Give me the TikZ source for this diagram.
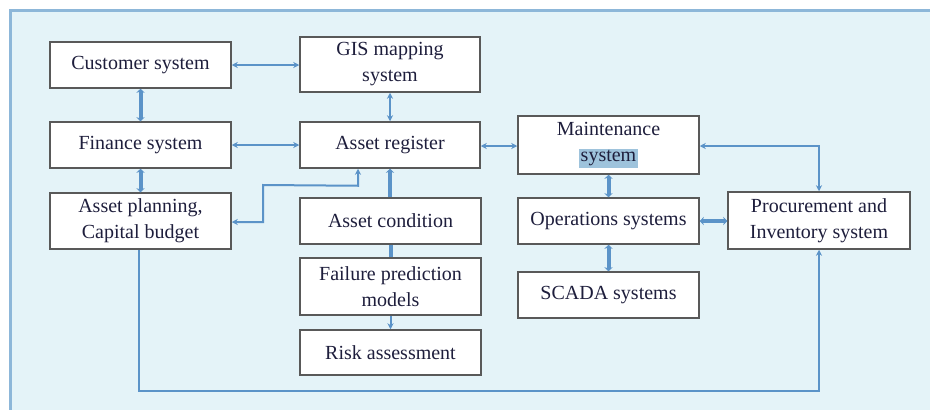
\documentclass[tikz,border=0pt]{standalone}
\usepackage{fontspec}
\setmainfont{Liberation Serif}
\usetikzlibrary{arrows.meta,calc}
\definecolor{bgblue}{HTML}{E4F3F8}
\definecolor{frameblue}{HTML}{8DB7D9}
\definecolor{lineblue}{HTML}{5B93C8}
\definecolor{hl}{HTML}{9EC3DC}
\definecolor{txt}{HTML}{1E1E3C}
\tikzset{
  box/.style={draw=black!65, line width=1.5pt, fill=white, text=txt,
    font=\fontsize{20}{26}\selectfont, align=center, inner sep=2pt},
  lnthin/.style={draw=lineblue, line width=2pt, >={Stealth[length=6pt,width=6pt]}},
  lnthick/.style={draw=lineblue, line width=4pt, >={Stealth[length=4pt,width=8pt]}},
}
\begin{document}
\begin{tikzpicture}[x=1pt,y=-1pt]
\useasboundingbox (0,0) rectangle (930,410);
\fill[bgblue] (10,10) rectangle (940,420);
\draw[frameblue, line width=3pt] (10,420) -- (10,10) -- (940,10);

\node[box, minimum width=181pt, minimum height=46pt] (cust) at (140.5,65) {Customer system};
\node[box, minimum width=180pt, minimum height=55pt] (gis) at (390,64.5) {GIS mapping\\system};
\node[box, minimum width=181pt, minimum height=46pt] (fin) at (140.5,145) {Finance system};
\node[box, minimum width=180pt, minimum height=46pt] (reg) at (390,145) {Asset register};
\node[box, minimum width=181pt, minimum height=56pt] (plan) at (140.5,221) {Asset planning,\\Capital budget};
\node[box, minimum width=181pt, minimum height=46pt] (cond) at (390.5,221) {Asset condition};
\node[box, minimum width=181pt, minimum height=57pt] (fail) at (390.5,286.5) {Failure prediction\\models};
\node[box, minimum width=181pt, minimum height=45pt] (risk) at (390.5,352.5) {Risk assessment};
\node[box, minimum width=181pt, minimum height=58pt] (maint) at (608.5,145) {Maintenance\\{\setlength{\fboxsep}{1.5pt}\colorbox{hl}{system}}};
\node[box, minimum width=181pt, minimum height=46pt] (ops) at (608.5,221) {Operations systems};
\node[box, minimum width=181pt, minimum height=46pt] (scada) at (608.5,295) {SCADA systems};
\node[box, minimum width=182pt, minimum height=57pt] (proc) at (819,220.5) {Procurement and\\Inventory system};

% horizontal thin links
\draw[lnthin, <->] (cust.east) -- (cust.east -| gis.west);
\draw[lnthin, <->] (fin.east) -- (reg.west);
\draw[lnthin, <->] ([yshift=-1pt]reg.east) -- ([yshift=-1pt]reg.east -| maint.west);
% vertical links
\draw[lnthick, <->] (cust.south) -- (fin.north);
\draw[lnthick, <->] (fin.south) -- (plan.north);
\draw[lnthin, <->] (gis.south) -- (reg.north);
\draw[lnthick, <->] (maint.south) -- (ops.north);
\draw[lnthick, <->] (ops.south) -- (scada.north);
\draw[lnthick, <->] (ops.east) -- (ops.east -| proc.west);
% maintenance to procurement
\draw[lnthin, <->] ([yshift=-1pt]maint.east) -| (proc.north);
% asset register to asset planning
\coordinate (r1) at ([xshift=-32pt]reg.south);
\coordinate (k1) at ($(r1)+(0,17)$);
\coordinate (k2) at (263,185);
\coordinate (k3) at (263,222);
\draw[lnthin, <->] (r1) -- (k1) -- (k2) -- (k3) -- (k3 -| plan.east);
% condition chain
\draw[lnthick, ->] (cond.north -| reg.south) -- (reg.south);
\draw[lnthick] (cond.south) -- (fail.north);
\draw[lnthin, ->] (fail.south) -- (risk.north);
% planning to procurement
\coordinate (b1) at ([xshift=-2pt]plan.south);
\coordinate (b2) at ($(b1)+(0,141)$);
\draw[lnthin, ->] (b1) -- (b2) -| (proc.south);
\end{tikzpicture}
\end{document}
